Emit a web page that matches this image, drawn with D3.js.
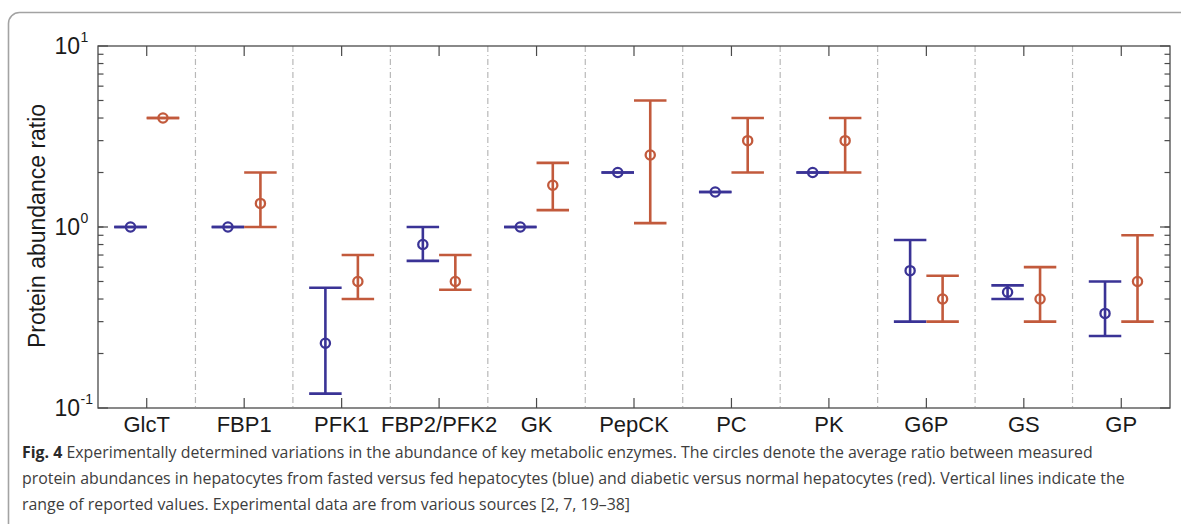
<!DOCTYPE html>
<html>
<head>
<meta charset="utf-8">
<script src="https://cdn.jsdelivr.net/npm/d3@7"></script>
<style>
  html, body { margin: 0; padding: 0; background: #fff; }
  svg { display: block; }
</style>
</head>
<body>
<svg id="chart" width="1181" height="524"></svg>
<script>
// Enzymes along the x axis
const categories = ["GlcT", "FBP1", "PFK1", "FBP2/PFK2", "GK", "PepCK", "PC", "PK", "G6P", "GS", "GP"];

// Fasted vs fed hepatocytes (blue): mean ratio and reported range
const fastedMean = [1, 1, 0.228, 0.8, 1, 2, 1.56, 2, 0.574, 0.436, 0.333];
const fastedLow  = [1, 1, 0.12, 0.65, 1, 2, 1.56, 2, 0.30, 0.40, 0.25];
const fastedHigh = [1, 1, 0.462, 1.0, 1, 2, 1.56, 2, 0.848, 0.476, 0.50];

// Diabetic vs normal hepatocytes (red): mean ratio and reported range
const diabeticMean = [4, 1.35, 0.5, 0.5, 1.7, 2.5, 3, 3, 0.4, 0.4, 0.5];
const diabeticLow  = [4, 1, 0.4, 0.45, 1.24, 1.05, 2, 2, 0.3, 0.3, 0.3];
const diabeticHigh = [4, 2, 0.7, 0.7, 2.26, 5, 4, 4, 0.538, 0.6, 0.9];

// Y axis decades
const yTickExponents = [1, 0, -1];

const captionLines = [
  [{ t: "Fig. 4", b: true }, { t: " Experimentally determined variations in the abundance of key metabolic enzymes. The circles denote the average ratio between measured" }],
  [{ t: "protein abundances in hepatocytes from fasted versus fed hepatocytes (blue) and diabetic versus normal hepatocytes (red). Vertical lines indicate the" }],
  [{ t: "range of reported values. Experimental data are from various sources [2, 7, 19\u201338]" }]
];

const BLUE = "#3a3396";
const RED = "#c25a3c";
const AXIS = "#4a4a4a";

const svg = d3.select("#chart");

// Figure panel frame with a rounded corner
svg.append("rect")
  .attr("x", 8.5).attr("y", 12.5)
  .attr("width", 1200).attr("height", 560)
  .attr("rx", 11).attr("ry", 11)
  .attr("fill", "none")
  .attr("stroke", "#a3a3a3")
  .attr("stroke-width", 1.6);

const plot = { left: 98, right: 1170, top: 46, bottom: 408 };

const x = d3.scaleBand().domain(categories).range([plot.left, plot.right]).padding(0);
const y = d3.scaleLog().domain([0.1, 10]).range([plot.bottom, plot.top]);
const off = x.bandwidth() / 6;
const capHalf = x.bandwidth() / 6;

const g = svg.append("g");

// Dash-dot separators between enzymes
g.selectAll("line.sep")
  .data(categories.slice(1))
  .join("line")
  .attr("class", "sep")
  .attr("x1", d => x(d)).attr("x2", d => x(d))
  .attr("y1", plot.top).attr("y2", plot.bottom)
  .attr("stroke", "#b8b8b8")
  .attr("stroke-width", 1.2)
  .attr("stroke-dasharray", "6,3,1,3");

// Box axes with inward ticks
const minorTicks = y.ticks(10).filter(v => v > 0.1 && v < 10);
const majorTicks = yTickExponents.map(e => Math.pow(10, e));

const axisG = g.append("g").attr("stroke", AXIS).attr("fill", "none");
axisG.append("rect")
  .attr("x", plot.left).attr("y", plot.top)
  .attr("width", plot.right - plot.left).attr("height", plot.bottom - plot.top)
  .attr("stroke-width", 1.3);

// y ticks on both sides
[[plot.left, 1], [plot.right, -1]].forEach(([x0, dir]) => {
  axisG.selectAll(null).data(minorTicks).join("line")
    .attr("x1", x0).attr("x2", x0 + dir * 5.5)
    .attr("y1", d => y(d)).attr("y2", d => y(d))
    .attr("stroke-width", 1.2);
  axisG.selectAll(null).data(majorTicks).join("line")
    .attr("x1", x0).attr("x2", x0 + dir * 10)
    .attr("y1", d => y(d)).attr("y2", d => y(d))
    .attr("stroke-width", 1.2);
});

// x ticks on top and bottom
[[plot.bottom, -1], [plot.top, 1]].forEach(([y0, dir]) => {
  axisG.selectAll(null).data(categories).join("line")
    .attr("x1", d => x(d) + x.bandwidth() / 2).attr("x2", d => x(d) + x.bandwidth() / 2)
    .attr("y1", y0).attr("y2", y0 + dir * 10)
    .attr("stroke-width", 1.2);
});

// y tick labels: 10 with superscript exponent
const yl = g.append("g")
  .attr("font-family", "'Liberation Sans', Arial, Helvetica, sans-serif")
  .attr("fill", "#1a1a1a");
yTickExponents.forEach(e => {
  const v = Math.pow(10, e);
  yl.append("text")
    .attr("x", 80).attr("y", y(v) + 8)
    .attr("text-anchor", "end")
    .attr("font-size", 23)
    .text("10");
  yl.append("text")
    .attr("x", 80.5).attr("y", y(v) - 4)
    .attr("font-size", 14)
    .text(e < 0 ? "-" + Math.abs(e) : String(e));
});

// x tick labels
g.append("g")
  .attr("font-family", "'Liberation Sans', Arial, Helvetica, sans-serif")
  .attr("font-size", 22)
  .attr("fill", "#1a1a1a")
  .selectAll("text")
  .data(categories)
  .join("text")
  .attr("x", d => x(d) + x.bandwidth() / 2)
  .attr("y", 432)
  .attr("text-anchor", "middle")
  .text(d => d);

// y axis title
svg.append("text")
  .attr("transform", "translate(45,226) rotate(-90)")
  .attr("text-anchor", "middle")
  .attr("font-family", "'Liberation Sans', Arial, Helvetica, sans-serif")
  .attr("font-size", 23)
  .attr("fill", "#1a1a1a")
  .text("Protein abundance ratio");

// Error bars with mean circles
function drawSeries(mean, low, high, dx, color) {
  const data = categories.map((c, i) => ({ c, m: mean[i], lo: low[i], hi: high[i] }));
  const s = g.append("g").attr("stroke", color).attr("fill", "none").attr("stroke-width", 2.6);
  const cx = d => x(d.c) + x.bandwidth() / 2 + dx;
  s.selectAll("line.v").data(data).join("line").attr("class", "v")
    .attr("x1", cx).attr("x2", cx)
    .attr("y1", d => y(d.lo)).attr("y2", d => y(d.hi));
  s.selectAll("line.lo").data(data).join("line").attr("class", "lo")
    .attr("x1", d => cx(d) - capHalf).attr("x2", d => cx(d) + capHalf)
    .attr("y1", d => y(d.lo)).attr("y2", d => y(d.lo));
  s.selectAll("line.hi").data(data).join("line").attr("class", "hi")
    .attr("x1", d => cx(d) - capHalf).attr("x2", d => cx(d) + capHalf)
    .attr("y1", d => y(d.hi)).attr("y2", d => y(d.hi));
  s.selectAll("circle").data(data).join("circle")
    .attr("cx", cx).attr("cy", d => y(d.m))
    .attr("r", 4.6)
    .attr("stroke-width", 2.3);
}
drawSeries(fastedMean, fastedLow, fastedHigh, -off, BLUE);
drawSeries(diabeticMean, diabeticLow, diabeticHigh, off, RED);

// Caption
const cap = svg.append("g")
  .attr("font-family", "'Open Sans', 'Noto Sans', sans-serif")
  .attr("fill", "#3d3d3d");
const capTexts = captionLines.map((line, i) => {
  const t = cap.append("text").attr("x", 22).attr("y", 458 + i * 26).attr("font-size", 16);
  line.forEach(seg => {
    t.append("tspan").attr("font-weight", seg.b ? 700 : 400)
      .attr("fill", seg.b ? "#2a2a2a" : null).text(seg.t);
  });
  return t;
});
// fit the caption to its column width
const target = 1126 - 22;
const w = capTexts[1].node().getComputedTextLength();
const fs = 16 * target / w;
capTexts.forEach(t => t.attr("font-size", fs));
</script>
</body>
</html>
